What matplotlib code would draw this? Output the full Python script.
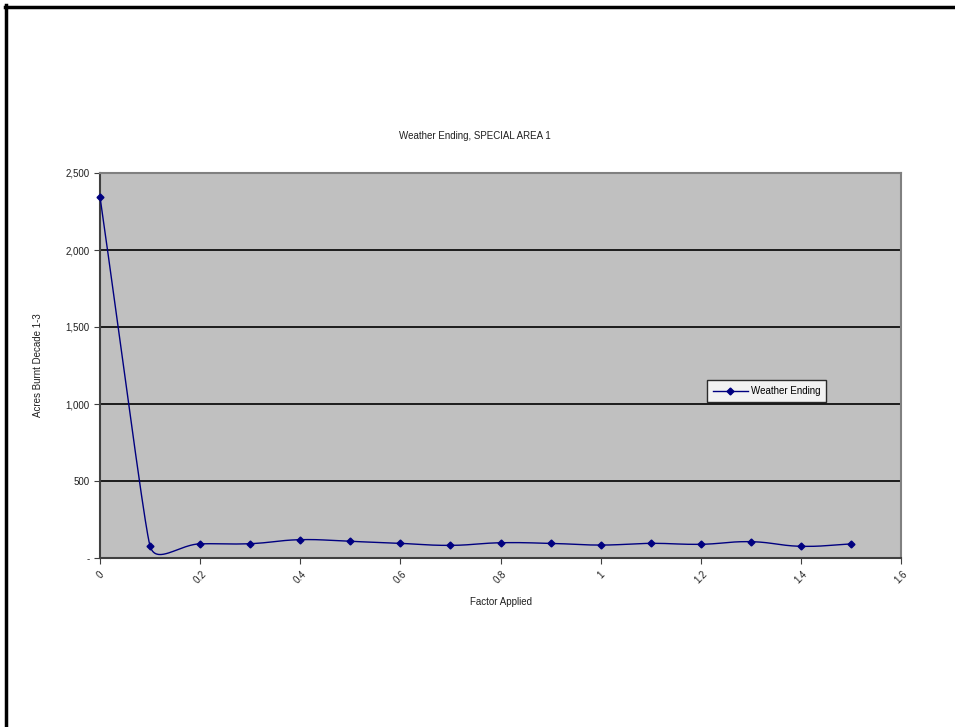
import numpy as np
import matplotlib.pyplot as plt
from matplotlib.lines import Line2D
from matplotlib.ticker import FuncFormatter, MultipleLocator

plt.rcParams["font.family"] = ["Liberation Sans", "DejaVu Sans"]

# Acres burnt (decade 1-3) against the weather ending factor
factor = [0.0, 0.1, 0.2, 0.3, 0.4, 0.5, 0.6, 0.7, 0.8, 0.9, 1.0, 1.1, 1.2, 1.3, 1.4, 1.5]
acres = [2345, 78, 92, 93, 119, 108, 95, 82, 99, 95, 84, 95, 89, 106, 76, 91]

XMAX, YMAX = 1.6, 2500
AX_W, AX_H = 801, 385   # plot area size in pixels


def smooth(x, y, k=0.42, n=40):
    # smoothed line: cubic Bezier pieces, tangent along the neighbour chord,
    # handle length a fraction of the shorter neighbouring segment on screen
    sx = np.asarray(x, float) / XMAX * AX_W
    sy = np.asarray(y, float) / YMAX * AX_H
    m = len(sx)
    seglen = np.hypot(np.diff(sx), np.diff(sy))
    tang = np.zeros((m, 2))
    hlen = np.zeros(m)
    for i in range(m):
        a = max(i - 1, 0)
        b = min(i + 1, m - 1)
        d = np.array([sx[b] - sx[a], sy[b] - sy[a]])
        tang[i] = d / np.hypot(*d)
        near = [seglen[j] for j in (i - 1, i) if 0 <= j < m - 1]
        hlen[i] = k * min(near)
    t = np.linspace(0, 1, n)[:, None]
    pts = []
    for i in range(m - 1):
        p1 = np.array([sx[i], sy[i]])
        p2 = np.array([sx[i + 1], sy[i + 1]])
        b1 = p1 + hlen[i] * tang[i]
        b2 = p2 - hlen[i + 1] * tang[i + 1]
        seg = (1 - t) ** 3 * p1 + 3 * (1 - t) ** 2 * t * b1 + 3 * (1 - t) * t ** 2 * b2 + t ** 3 * p2
        pts.append(seg)
    pts = np.vstack(pts)
    return pts[:, 0] / AX_W * XMAX, pts[:, 1] / AX_H * YMAX


fig = plt.figure(figsize=(9.55, 7.27), dpi=100)
ax = fig.add_axes([100 / 955, 1 - 558 / 727, AX_W / 955, AX_H / 727])
ax.set_facecolor("#c0c0c0")

cx, cy = smooth(factor, acres)
ax.plot(cx, cy, color="#000080", lw=1.0, zorder=3, clip_on=False)
ax.plot(factor, acres, ls="none", marker="D", ms=3.5, color="#000080", zorder=4, clip_on=False)

ax.set_xlim(0, XMAX)
ax.set_ylim(0, YMAX)
ax.xaxis.set_major_locator(MultipleLocator(0.2))
ax.yaxis.set_major_locator(MultipleLocator(500))
ax.xaxis.set_major_formatter(FuncFormatter(lambda v, p: f"{v:g}"))
ax.yaxis.set_major_formatter(FuncFormatter(lambda v, p: "-" if v == 0 else f"{v:,.0f}"))

for v in range(500, 2500, 500):
    ax.axhline(v, color="black", lw=1.2, zorder=1)

for s in ["top", "right"]:
    ax.spines[s].set_color("#808080")
    ax.spines[s].set_linewidth(1.5)
for s in ["left", "bottom"]:
    ax.spines[s].set_color("#404040")
    ax.spines[s].set_linewidth(1.5)

ax.tick_params(axis="both", direction="out", length=4, color="#404040", labelsize=7, labelcolor="#202020")
ax.tick_params(axis="x", pad=4)
for lbl in ax.get_xticklabels():
    lbl.set_rotation(45)
    lbl.set_ha("center")

ax.set_xlabel("Factor Applied", fontsize=7, color="#202020", labelpad=8)
ax.set_ylabel("Acres Burnt Decade 1-3", fontsize=7, color="#202020", labelpad=16)
fig.text(475 / 955, 1 - 136 / 727, "Weather Ending, SPECIAL AREA 1", fontsize=7,
         ha="center", va="center", color="#202020")

handle = Line2D([], [], color="#000080", lw=1.0, marker="D", ms=3.5)
leg = ax.legend([handle], ["Weather Ending"], loc="center left",
                bbox_to_anchor=(607 / 801, 1 - 218 / 385), fontsize=7,
                frameon=True, fancybox=False, edgecolor="black", facecolor="white",
                handlelength=3.6, handletextpad=0.3, borderpad=0.6, borderaxespad=0)
leg.get_frame().set_linewidth(1.0)

# frame lines along the top and left edge of the page
fig.add_artist(Line2D([5 / 955, 1], [1 - 6.5 / 727] * 2, color="black", lw=2.5,
                      transform=fig.transFigure))
fig.add_artist(Line2D([5.5 / 955] * 2, [0, 1 - 5 / 727], color="black", lw=2.5,
                      transform=fig.transFigure))

fig.savefig("out.png", dpi=100, facecolor="white")
